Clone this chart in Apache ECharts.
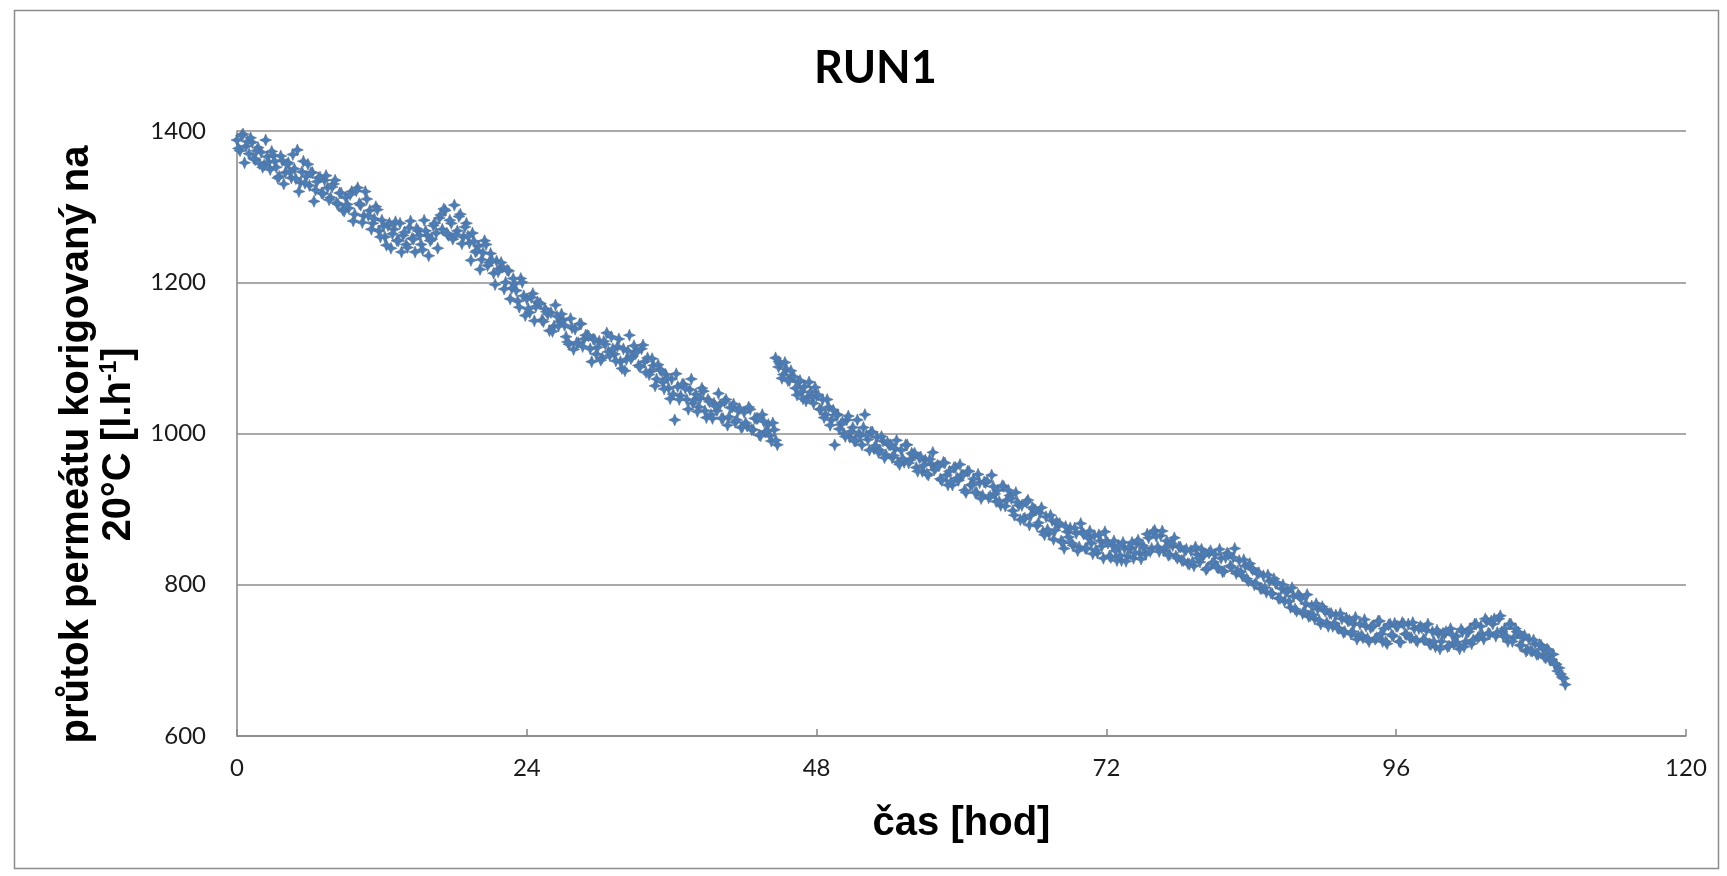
<!DOCTYPE html>
<html>
<head>
<meta charset="utf-8">
<script src="https://cdn.jsdelivr.net/npm/echarts@6/dist/echarts.min.js"></script>
<style>
html,body{margin:0;padding:0;background:#fff;}
#chart{width:1727px;height:876px;}
</style>
</head>
<body>
<div id="chart"></div>
<script>
// time [h] - readings A
const hours = [
0,0.25,0.5,0.75,1,1.25,1.5,1.75,2,2.25,2.5,2.75,3,3.25,3.5,3.75,4,4.25,4.5,4.75,
5,5.25,5.5,5.75,6,6.25,6.5,6.75,7,7.25,7.5,7.75,8,8.25,8.5,8.75,9,9.25,9.5,9.75,
10,10.25,10.5,10.75,11,11.25,11.5,11.75,12,12.25,12.5,12.75,13,13.25,13.5,13.75,14,14.25,14.5,14.75,
15,15.25,15.5,15.75,16,16.25,16.5,16.75,17,17.25,17.5,17.75,18,18.25,18.5,18.75,19,19.25,19.5,19.75,
20,20.25,20.5,20.75,21,21.25,21.5,21.75,22,22.25,22.5,22.75,23,23.25,23.5,23.75,24,24.25,24.5,24.75,
25,25.25,25.5,25.75,26,26.25,26.5,26.75,27,27.25,27.5,27.75,28,28.25,28.5,28.75,29,29.25,29.5,29.75,
30,30.25,30.5,30.75,31,31.25,31.5,31.75,32,32.25,32.5,32.75,33,33.25,33.5,33.75,34,34.25,34.5,34.75,
35,35.25,35.5,35.75,36,36.25,36.5,36.75,37,37.25,37.5,37.75,38,38.25,38.5,38.75,39,39.25,39.5,39.75,
40,40.25,40.5,40.75,41,41.25,41.5,41.75,42,42.25,42.5,42.75,43,43.25,43.5,43.75,44,44.25,44.5,44.75,
44.6,44.85,
45,45.25,45.5,45.75,46,46.25,46.5,46.75,47,47.25,47.5,47.75,48,48.25,48.5,48.75,49,49.25,49.5,49.75,
50,50.25,50.5,50.75,51,51.25,51.5,51.75,52,52.25,52.5,52.75,53,53.25,53.5,53.75,54,54.25,54.5,54.75,
55,55.25,55.5,55.75,56,56.25,56.5,56.75,57,57.25,57.5,57.75,58,58.25,58.5,58.75,59,59.25,59.5,59.75,
60,60.25,60.5,60.75,61,61.25,61.5,61.75,62,62.25,62.5,62.75,63,63.25,63.5,63.75,64,64.25,64.5,64.75,
65,65.25,65.5,65.75,66,66.25,66.5,66.75,67,67.25,67.5,67.75,68,68.25,68.5,68.75,69,69.25,69.5,69.75,
70,70.25,70.5,70.75,71,71.25,71.5,71.75,72,72.25,72.5,72.75,73,73.25,73.5,73.75,74,74.25,74.5,74.75,
75,75.25,75.5,75.75,76,76.25,76.5,76.75,77,77.25,77.5,77.75,78,78.25,78.5,78.75,79,79.25,79.5,79.75,
80,80.25,80.5,80.75,81,81.25,81.5,81.75,82,82.25,82.5,82.75,83,83.25,83.5,83.75,84,84.25,84.5,84.75,
85,85.25,85.5,85.75,86,86.25,86.5,86.75,87,87.25,87.5,87.75,88,88.25,88.5,88.75,89,89.25,89.5,89.75,
90,90.25,90.5,90.75,91,91.25,91.5,91.75,92,92.25,92.5,92.75,93,93.25,93.5,93.75,94,94.25,94.5,94.75,
95,95.25,95.5,95.75,96,96.25,96.5,96.75,97,97.25,97.5,97.75,98,98.25,98.5,98.75,99,99.25,99.5,99.75,
100,100.25,100.5,100.75,101,101.25,101.5,101.75,102,102.25,102.5,102.75,103,103.25,103.5,103.75,104,104.25,104.5,104.75,
105,105.25,105.5,105.75,106,106.25,106.5,106.75,107,107.25,107.5,107.75,108,108.25,108.5,108.75,109,109.25,109.5,109.75,
110
];
// corrected permeate flow [l/h] - readings A
const flow = [
1388,1374,1396,1380,1370,1385,1362,1378,1372,1355,1366,1349,1368,1352,1340,1361,1345,1358,1338,1350,
1375,1332,1360,1340,1328,1345,1322,1338,1318,1335,1325,1312,1330,1305,1318,1296,1312,1298,1320,1290,
1325,1302,1288,1310,1295,1278,1300,1268,1282,1260,1275,1245,1270,1255,1278,1262,1250,1272,1258,1240,
1268,1250,1282,1262,1255,1275,1265,1285,1270,1295,1262,1278,1302,1268,1290,1260,1278,1252,1265,1240,
1248,1230,1255,1222,1238,1212,1228,1218,1220,1200,1215,1192,1198,1175,1205,1182,1178,1160,1185,1168,
1172,1150,1165,1158,1160,1142,1155,1148,1150,1128,1118,1140,1138,1120,1145,1125,1130,1112,1125,1105,
1122,1100,1118,1108,1128,1105,1115,1095,1112,1098,1130,1102,1108,1090,1112,1095,1100,1082,1090,1072,
1085,1068,1078,1060,1072,1018,1062,1050,1065,1045,1058,1040,1052,1035,1060,1030,1045,1025,1040,1030,
1038,1020,1045,1022,1035,1015,1030,1008,1028,1010,1032,1005,1020,998,1025,1002,1012,990,1005,985,
1100,1088,
1092,1078,1085,1070,1075,1060,1068,1055,1062,1048,1055,1040,1050,1032,1045,1025,1035,1018,985,1025,
1012,1000,1018,995,1008,990,1000,985,1025,992,1002,980,995,978,990,972,985,968,980,962,
978,962,985,965,972,955,968,950,965,945,960,952,958,940,962,945,950,932,955,938,
945,925,950,932,940,922,935,918,935,915,945,920,925,905,930,912,918,898,922,905,
905,888,912,892,900,878,895,870,890,868,885,872,880,858,848,870,875,852,868,850,
870,848,862,855,865,842,858,835,858,838,852,845,852,832,848,838,848,835,855,842,
852,840,862,848,872,850,865,845,858,840,852,838,850,832,845,828,845,825,840,830,
838,820,842,828,840,822,835,818,842,825,836,815,832,812,825,805,822,800,815,795,
812,790,805,788,802,782,795,778,792,770,785,765,785,762,775,758,772,755,768,748,
768,750,762,745,760,742,755,738,752,735,748,728,748,730,745,725,745,728,752,735,
742,722,748,732,745,725,750,735,748,730,742,725,745,728,740,722,738,718,735,725,
735,718,742,722,732,715,738,725,738,722,748,730,745,728,752,735,748,732,755,738,
742,725,748,730,738,720,730,712,728,712,722,708,720,705,715,700,708,695,690,678,
668
];
// time [h] - readings B
const hoursB = [
0.125,0.375,0.625,0.875,1.125,1.375,1.625,1.875,2.125,2.375,2.625,2.875,3.125,3.375,3.625,3.875,4.125,4.375,4.625,4.875,
5.125,5.375,5.625,5.875,6.125,6.375,6.625,6.875,7.125,7.375,7.625,7.875,8.125,8.375,8.625,8.875,9.125,9.375,9.625,9.875,
10.125,10.375,10.625,10.875,11.125,11.375,11.625,11.875,12.125,12.375,12.625,12.875,13.125,13.375,13.625,13.875,14.125,14.375,14.625,14.875,
15.125,15.375,15.625,15.875,16.125,16.375,16.625,16.875,17.125,17.375,17.625,17.875,18.125,18.375,18.625,18.875,19.125,19.375,19.625,19.875,
20.125,20.375,20.625,20.875,21.125,21.375,21.625,21.875,22.125,22.375,22.625,22.875,23.125,23.375,23.625,23.875,24.125,24.375,24.625,24.875,
25.125,25.375,25.625,25.875,26.125,26.375,26.625,26.875,27.125,27.375,27.625,27.875,28.125,28.375,28.625,28.875,29.125,29.375,29.625,29.875,
30.125,30.375,30.625,30.875,31.125,31.375,31.625,31.875,32.125,32.375,32.625,32.875,33.125,33.375,33.625,33.875,34.125,34.375,34.625,34.875,
35.125,35.375,35.625,35.875,36.125,36.375,36.625,36.875,37.125,37.375,37.625,37.875,38.125,38.375,38.625,38.875,39.125,39.375,39.625,39.875,
40.125,40.375,40.625,40.875,41.125,41.375,41.625,41.875,42.125,42.375,42.625,42.875,43.125,43.375,43.625,43.875,44.125,44.375,44.625,44.875,
45.125,45.375,45.625,45.875,46.125,46.375,46.625,46.875,47.125,47.375,47.625,47.875,48.125,48.375,48.625,48.875,49.125,49.375,49.625,49.875,
50.125,50.375,50.625,50.875,51.125,51.375,51.625,51.875,52.125,52.375,52.625,52.875,53.125,53.375,53.625,53.875,54.125,54.375,54.625,54.875,
55.125,55.375,55.625,55.875,56.125,56.375,56.625,56.875,57.125,57.375,57.625,57.875,58.125,58.375,58.625,58.875,59.125,59.375,59.625,59.875,
60.125,60.375,60.625,60.875,61.125,61.375,61.625,61.875,62.125,62.375,62.625,62.875,63.125,63.375,63.625,63.875,64.125,64.375,64.625,64.875,
65.125,65.375,65.625,65.875,66.125,66.375,66.625,66.875,67.125,67.375,67.625,67.875,68.125,68.375,68.625,68.875,69.125,69.375,69.625,69.875,
70.125,70.375,70.625,70.875,71.125,71.375,71.625,71.875,72.125,72.375,72.625,72.875,73.125,73.375,73.625,73.875,74.125,74.375,74.625,74.875,
75.125,75.375,75.625,75.875,76.125,76.375,76.625,76.875,77.125,77.375,77.625,77.875,78.125,78.375,78.625,78.875,79.125,79.375,79.625,79.875,
80.125,80.375,80.625,80.875,81.125,81.375,81.625,81.875,82.125,82.375,82.625,82.875,83.125,83.375,83.625,83.875,84.125,84.375,84.625,84.875,
85.125,85.375,85.625,85.875,86.125,86.375,86.625,86.875,87.125,87.375,87.625,87.875,88.125,88.375,88.625,88.875,89.125,89.375,89.625,89.875,
90.125,90.375,90.625,90.875,91.125,91.375,91.625,91.875,92.125,92.375,92.625,92.875,93.125,93.375,93.625,93.875,94.125,94.375,94.625,94.875,
95.125,95.375,95.625,95.875,96.125,96.375,96.625,96.875,97.125,97.375,97.625,97.875,98.125,98.375,98.625,98.875,99.125,99.375,99.625,99.875,
100.125,100.375,100.625,100.875,101.125,101.375,101.625,101.875,102.125,102.375,102.625,102.875,103.125,103.375,103.625,103.875,104.125,104.375,104.625,104.875,
105.125,105.375,105.625,105.875,106.125,106.375,106.625,106.875,107.125,107.375,107.625,107.875,108.125,108.375,108.625,108.875,109.125,109.375,109.625,109.875
];
// corrected permeate flow [l/h] - readings B
const flowB = [
1377,1394,1358,1386,1391,1364,1374,1357,1352,1388,1359,1373,1360,1338,1367,1330,1356,1346,1369,1337,
1320,1346,1331,1356,1345,1307,1333,1339,1317,1341,1309,1326,1335,1303,1318,1294,1303,1316,1281,1321,
1304,1279,1320,1288,1270,1284,1296,1260,1274,1249,1278,1264,1280,1255,1240,1266,1246,1281,1257,1271,
1262,1243,1268,1235,1257,1278,1245,1289,1297,1265,1282,1257,1263,1287,1251,1273,1261,1229,1254,1242,
1217,1239,1250,1226,1229,1197,1214,1226,1191,1216,1178,1205,1189,1167,1200,1156,1165,1180,1149,1174,
1172,1148,1161,1136,1135,1170,1142,1158,1143,1121,1152,1111,1120,1145,1115,1130,1129,1095,1124,1114,
1097,1122,1133,1103,1112,1096,1125,1086,1083,1109,1099,1116,1108,1088,1117,1081,1078,1099,1063,1091,
1083,1059,1073,1046,1052,1079,1045,1065,1060,1032,1072,1044,1029,1047,1056,1021,1042,1020,1036,1053,
1020,1042,1011,1034,1039,1018,1033,1009,1014,1035,1005,1020,1020,997,1016,1003,997,1014,991,1095,
1073,1094,1070,1083,1075,1051,1070,1046,1043,1068,1048,1061,1051,1032,1021,1045,1011,1031,1024,1006,
1015,996,1023,1003,990,1018,997,1008,998,978,1002,984,975,996,968,988,985,971,991,959,
967,985,961,974,974,950,969,958,947,966,975,955,957,938,961,932,936,955,941,959,
945,922,950,932,922,946,914,936,937,917,930,910,910,931,904,925,914,892,909,886,
887,909,879,902,899,882,902,866,873,892,860,883,881,856,877,863,855,875,845,881,
867,848,871,841,846,866,851,870,855,836,858,832,839,856,831,850,856,842,859,834,
849,867,844,870,864,844,871,849,839,855,862,835,850,832,847,827,830,850,835,847,
841,822,845,830,824,847,817,836,840,823,848,818,817,833,808,828,820,802,816,795,
796,813,789,808,803,782,800,790,778,796,768,787,782,765,787,759,760,775,753,771,
765,745,762,749,743,762,737,756,753,738,757,732,733,754,729,743,746,730,752,725,
725,747,734,749,745,724,748,734,730,750,727,742,743,727,748,721,725,740,715,736,
738,719,734,724,721,741,718,737,742,727,748,732,734,755,736,752,755,737,759,732,
732,748,725,742,737,720,733,714,713,727,708,721,716,703,713,701,695,686,682,676
];
const xTicks = [0, 24, 48, 72, 96, 120];
const yTicks = [600, 800, 1000, 1200, 1400];

const points = hours.map((h, i) => [h, flow[i]]).concat(hoursB.map((h, i) => [h, flowB[i]]));
const chart = echarts.init(document.getElementById('chart'), null, {renderer: 'canvas'});
const star = 'path://M0,-10 L3,-3 L10,0 L3,3 L0,10 L-3,3 L-10,0 L-3,-3 Z';

chart.setOption({
  animation: false,
  backgroundColor: '#ffffff',
  title: {
    text: 'RUN1',
    left: 809,
    top: 41,
    textStyle: {fontFamily: 'Lato', fontWeight: 'bold', fontSize: 45, color: '#000'}
  },
  graphic: [{
    type: 'rect', left: 12, top: 8, silent: true,
    shape: {width: 1704, height: 858},
    style: {fill: 'none', stroke: '#8c8c8c', lineWidth: 1.5}
  }],
  grid: {left: 237, right: 41, top: 131, bottom: 140, containLabel: false},
  xAxis: {
    type: 'value',
    min: xTicks[0], max: xTicks[xTicks.length - 1], interval: 24,
    name: 'čas [hod]',
    nameLocation: 'middle',
    nameGap: 68,
    nameTextStyle: {fontFamily: 'Liberation Sans', fontWeight: 'bold', fontSize: 40, color: '#000'},
    axisLine: {show: true, lineStyle: {color: '#868686', width: 1.5}},
    axisTick: {show: true, inside: true, length: 7, lineStyle: {color: '#868686', width: 1.5}},
    axisLabel: {fontFamily: 'Lato', fontSize: 24, color: '#1a1a1a', margin: 20, formatter: v => String(v)},
    splitLine: {show: false}
  },
  yAxis: {
    type: 'value',
    min: yTicks[0], max: yTicks[yTicks.length - 1], interval: 200,
    name: '{t|průtok permeátu korigovaný na}\n{t|20°C [l.h}{s|-1}{t|]}',
    nameLocation: 'middle',
    nameGap: 96,
    nameTextStyle: {
      padding: [0, 22, 0, 0],
      rich: {
        t: {fontFamily: 'Liberation Sans', fontWeight: 'bold', fontSize: 40, lineHeight: 42, color: '#000'},
        s: {fontFamily: 'Liberation Sans', fontWeight: 'bold', fontSize: 23, lineHeight: 30, verticalAlign: 'top', color: '#000'}
      }
    },
    axisLine: {show: true, lineStyle: {color: '#868686', width: 1.5}},
    axisTick: {show: false},
    axisLabel: {fontFamily: 'Lato', fontSize: 24, color: '#1a1a1a', margin: 31, formatter: v => String(v)},
    splitLine: {show: true, lineStyle: {color: '#8c8c8c', width: 1.5}}
  },
  series: [{
    type: 'scatter',
    data: points,
    symbol: star,
    symbolSize: 12,
    itemStyle: {color: '#4a7ebb', borderColor: '#55708f', borderWidth: 0.6, opacity: 1}
  }]
});
</script>
</body>
</html>
